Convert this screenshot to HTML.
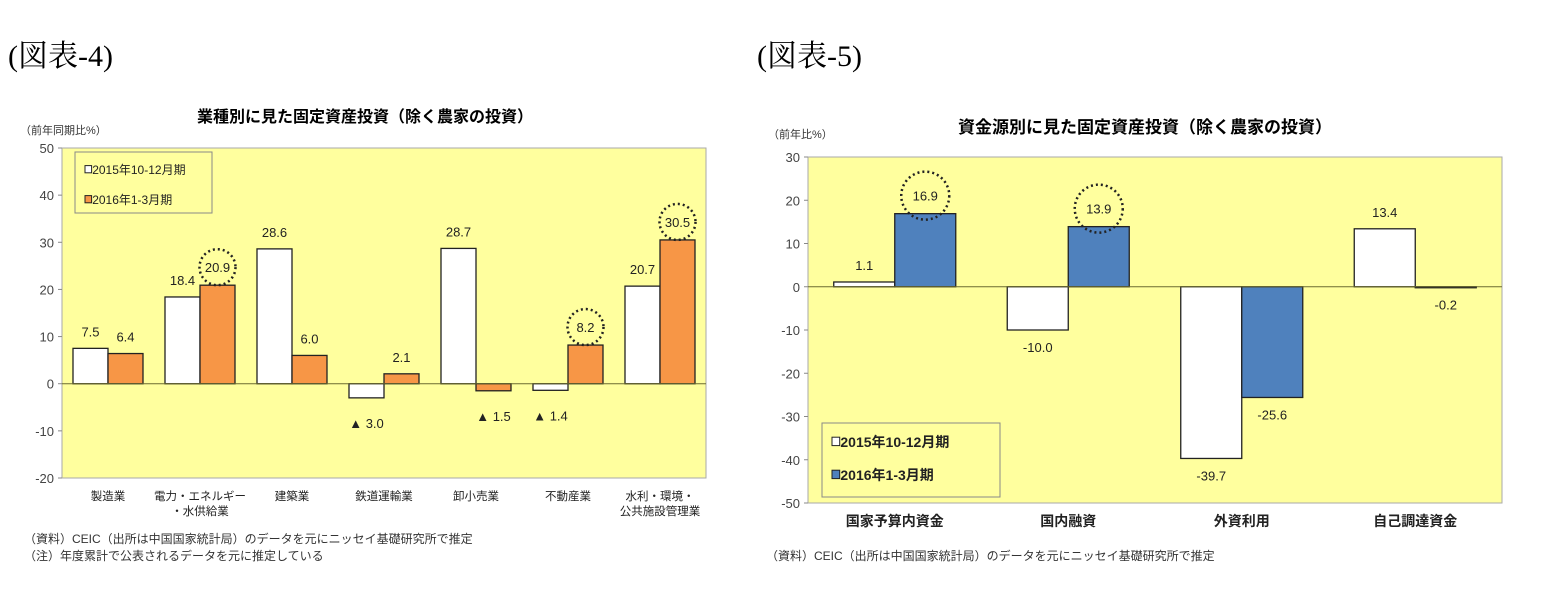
<!DOCTYPE html>
<html><head><meta charset="utf-8"><style>
body{margin:0;background:#fff;width:1541px;height:603px;overflow:hidden;font-family:"Liberation Sans","Noto Sans CJK JP",sans-serif;}
</style></head><body>
<svg width="1541" height="603" xmlns="http://www.w3.org/2000/svg" style="font-family:'Liberation Sans','Noto Sans CJK JP',sans-serif">
<text x="8" y="66" font-size="30" style="font-family:'Liberation Serif','Noto Serif CJK SC',serif">(図表-4)</text>
<text x="757" y="66" font-size="30" style="font-family:'Liberation Serif','Noto Serif CJK SC',serif">(図表-5)</text>
<g id="c1"></g>
<g id="c2"></g>
</svg>
<script>
const cats1=["製造業","電力・エネルギー\n・水供給業","建築業","鉄道運輸業","卸小売業","不動産業","水利・環境・\n公共施設管理業"];
const s1a=[7.5,18.4,28.6,-3.0,28.7,-1.4,20.7];
const s1b=[6.4,20.9,6.0,2.1,-1.5,8.2,30.5];
const circled1=[false,true,false,false,false,true,true];
const ticks1=[50,40,30,20,10,0,-10,-20];
const cats2=["国家予算内資金","国内融資","外資利用","自己調達資金"];
const s2a=[1.1,-10.0,-39.7,13.4];
const s2b=[16.9,13.9,-25.6,-0.2];
const circled2=[true,true,false,false];
const ticks2=[30,20,10,0,-10,-20,-30,-40,-50];
const NS="http://www.w3.org/2000/svg";
function mk(p,t,a,txt){const e=document.createElementNS(NS,t);for(const k in a)e.setAttribute(k,a[k]);if(txt!==undefined)e.textContent=txt;p.appendChild(e);return e;}
function fmt(v,tri){if(v<0&&tri)return "▲ "+Math.abs(v).toFixed(1);return v.toFixed(1);}
function chart(g,o){
  const y=v=>o.top+(o.max-v)/(o.max-o.min)*(o.bot-o.top);
  const t=mk(g,"text",{x:o.titleX,y:o.titleY,"font-size":o.titleSize,"text-anchor":"middle","font-weight":"bold"},o.title);
  
  
  const u=mk(g,"text",{x:o.unitX,y:o.unitY,"font-size":11,fill:"#333"},o.unit);
  
  
  const pa=mk(g,"rect",{x:o.left,y:o.top,width:o.right-o.left,height:o.bot-o.top,fill:"#ffff9e",stroke:"#aaa"});
  
  
  o.ticks.forEach(v=>{
    const tl=mk(g,"text",{x:o.left-8,y:y(v)+5,"font-size":13,fill:"#444","text-anchor":"end"},String(v));
    
    
    mk(g,"line",{x1:o.left-4,x2:o.left,y1:y(v),y2:y(v),stroke:"#888"});
  });
  const cw=(o.right-o.left)/o.cats.length;
  o.cats.forEach((c,i)=>{
    const cx=o.left+cw*(i+0.5);
    [o.a,o.b].forEach((arr,j)=>{
      const v=arr[i];const x=j==0?cx-o.bw:cx;
      const y1=Math.min(y(v),y(0)),h=Math.abs(y(v)-y(0));
      const r=mk(g,"rect",{x:x,y:y1,width:o.bw,height:Math.max(h,1),fill:j==0?"#fff":o.col,stroke:"#222","stroke-width":1.3});
      
      
      let ly=v>=0?y(v)-12:y(v)+22;
      let lx=x+o.bw/2;
      if(v<0&&o.tri){ly=y(v)+30;}
      const lb=mk(g,"text",{x:lx,y:ly,"font-size":o.lsize,fill:"#222","text-anchor":"middle"},fmt(v,o.tri));
      
      
      if(j==1&&o.circ[i]){
        const cc=mk(g,"circle",{cx:lx,cy:y(v)-18,r:o.cr,fill:"none",stroke:"#222","stroke-width":2.5,"stroke-dasharray":"2 3"});
        
        
        lb.setAttribute('y',y(v)-13);
      }
    });
    c.split("\n").forEach((ln,k)=>{
      const cl=mk(g,"text",{x:cx,y:o.bot+o.catDy+k*o.catLh,"font-size":o.csize,fill:"#222","text-anchor":"middle","font-weight":o.cw},ln);
      
      
    });
  });
  mk(g,"line",{x1:o.left,x2:o.right,y1:y(0),y2:y(0),stroke:"#6b6b30","stroke-width":1});
  const L=o.leg;
  const lg=mk(g,"g",{});
  
  
  mk(lg,"rect",{x:L.x,y:L.y,width:L.w,height:L.h,fill:"#ffff9e",stroke:"#888"});
  [["2015年10-12月期","#fff"],["2016年1-3月期",o.col]].forEach((e,k)=>{
    const ey=L.y+L.pad+k*L.gap;
    mk(lg,"rect",{x:L.x+10,y:ey-L.fs*0.7,width:L.fs*0.55,height:L.fs*0.6,fill:e[1],stroke:"#222"});
    const et=mk(lg,"text",{x:L.x+10+L.fs*0.6,y:ey,"font-size":L.fs,fill:"#222","font-weight":o.cw},e[0]);
    
    
  });
  o.notes.forEach((n,k)=>{
    const nt=mk(g,"text",{x:o.noteX,y:o.noteY+k*17,"font-size":12,fill:"#333"},n);
    
    
  });
}
chart(document.getElementById("c1"),{title:"業種別に見た固定資産投資（除く農家の投資）",titleX:365,titleY:122,titleSize:16,unit:"（前年同期比%）",unitX:20,unitY:134,
left:62,right:706,top:148,bot:478,max:50,min:-20,ticks:ticks1,cats:cats1,a:s1a,b:s1b,circ:circled1,col:"#f79646",bw:35,tri:true,lsize:13,cr:18,
catDy:22,catLh:15,csize:11.5,cw:"normal",leg:{x:75,y:152,w:137,h:61,pad:22,gap:30,fs:12},
notes:["（資料）CEIC（出所は中国国家統計局）のデータを元にニッセイ基礎研究所で推定","（注）年度累計で公表されるデータを元に推定している"],noteX:24,noteY:543});
chart(document.getElementById("c2"),{title:"資金源別に見た固定資産投資（除く農家の投資）",titleX:1145,titleY:133,titleSize:17,unit:"（前年比%）",unitX:768,unitY:138,
left:808,right:1502,top:157,bot:503,max:30,min:-50,ticks:ticks2,cats:cats2,a:s2a,b:s2b,circ:circled2,col:"#4f81bd",bw:61,tri:false,lsize:13,cr:24,
catDy:23,catLh:15,csize:14,cw:"bold",leg:{x:822,y:423,w:178,h:74,pad:24,gap:33,fs:14},
notes:["（資料）CEIC（出所は中国国家統計局）のデータを元にニッセイ基礎研究所で推定"],noteX:766,noteY:560});
</script>
</body></html>
